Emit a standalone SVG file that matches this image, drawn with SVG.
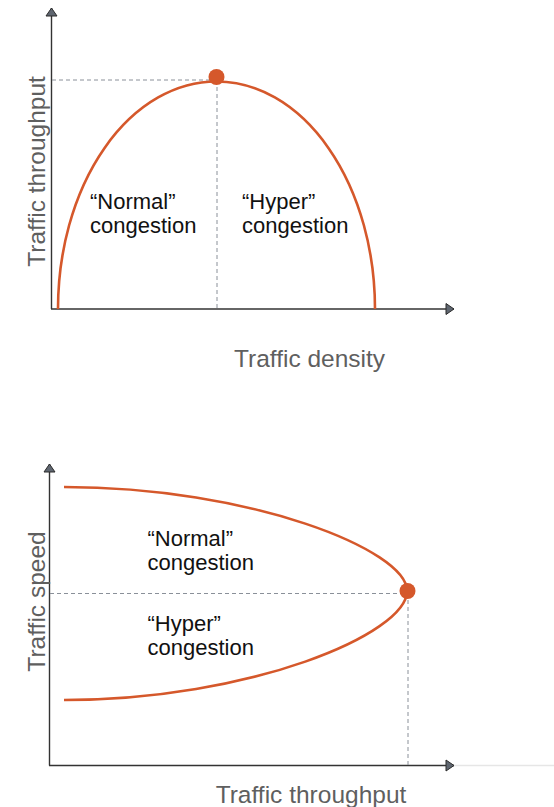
<svg xmlns="http://www.w3.org/2000/svg" width="554" height="807" viewBox="0 0 554 807">
<style>
.axis{stroke:#333;stroke-width:1.4;fill:none}
.dash{stroke:#8a9099;stroke-width:1;stroke-dasharray:4 3;fill:none}
.curve{stroke:#d5582b;stroke-width:2.6;fill:none}
.dot{fill:#d5582b}
.lbl{font-family:"Liberation Sans",Arial,sans-serif;font-size:24.5px;fill:#5f5f5f}
.txt{font-family:"Liberation Sans",Arial,sans-serif;font-size:22px;fill:#111}
</style>
<defs>
<marker id="arr" markerUnits="userSpaceOnUse" markerWidth="14" markerHeight="14" viewBox="0 0 14 14" refX="10" refY="7" orient="auto">
<path d="M2 1.5 L10 7 L2 12.5 Z" fill="#5f6670" stroke="#2b2b2b" stroke-width="1"/>
</marker>
</defs>
<g id="connectors">
<line class="axis" x1="51.5" y1="309" x2="51.5" y2="8" marker-end="url(#arr)"/>
<line class="axis" x1="51" y1="309" x2="454" y2="309" marker-end="url(#arr)"/>
<line class="dash" x1="52" y1="80" x2="216" y2="80"/>
<line class="dash" x1="217" y1="80" x2="217" y2="308"/>
<line x1="454" y1="765.5" x2="554" y2="765.5" stroke="#e6e6e6" stroke-width="1.5"/>
<line class="axis" x1="49.5" y1="765.5" x2="49.5" y2="464" marker-end="url(#arr)"/>
<line class="axis" x1="49" y1="765.5" x2="454" y2="765.5" marker-end="url(#arr)"/>
<line class="dash" x1="50" y1="593.5" x2="407" y2="593.5"/>
<line class="dash" x1="408" y1="593" x2="408" y2="765"/>
</g>
<g id="top-curve">
<path class="curve" d="M58 309 A158.5 227.5 0 0 1 375 309"/>
<circle class="dot" cx="216.5" cy="77" r="8"/>
</g>
<g id="bottom-curve">
<path class="curve" d="M64 487 C250 487 407 550 407 591 C407 634 250 700 64 700"/>
<circle class="dot" cx="407.5" cy="591" r="8"/>
</g>
<g id="top-labels">
<text class="lbl" transform="translate(45,171.5) rotate(-90)" text-anchor="middle">Traffic throughput</text>
<text class="lbl" x="309.5" y="367" text-anchor="middle">Traffic density</text>
<text class="txt" x="90" y="209">“Normal”</text>
<text class="txt" x="90" y="233">congestion</text>
<text class="txt" x="242" y="209">“Hyper”</text>
<text class="txt" x="242" y="233">congestion</text>
</g>
<g id="bottom-labels">
<text class="lbl" transform="translate(45,601.5) rotate(-90)" text-anchor="middle">Traffic speed</text>
<text class="lbl" x="311" y="803" text-anchor="middle">Traffic throughput</text>
<text class="txt" x="147.5" y="546">“Normal”</text>
<text class="txt" x="147.5" y="570">congestion</text>
<text class="txt" x="147.5" y="631">“Hyper”</text>
<text class="txt" x="147.5" y="654.5">congestion</text>
</g>
</svg>
